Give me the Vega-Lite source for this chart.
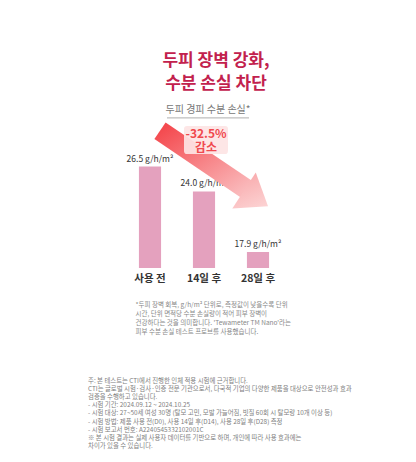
{
  "$schema": "https://vega.github.io/schema/vega-lite/v6.json",
  "background": "#ffffff",
  "padding": {"left": 88, "top": 52, "right": 0, "bottom": 0},
  "config": {"view": {"stroke": null}, "font": "Noto Sans CJK KR"},
  "spacing": 42,
  "vconcat": [
    {
      "width": 162,
      "height": 166,
      "title": {
        "text": ["두피 장벽 강화,", "수분 손실 차단"],
        "color": "#c2214d",
        "fontSize": 17,
        "fontWeight": "bold",
        "lineHeight": 23,
        "anchor": "middle",
        "dx": 12,
        "offset": 9,
        "font": "Noto Sans CJK KR"
      },
      "layer": [
        {
          "data": {"values": [
            {"stage": "사용 전", "tewl": 26.5, "label": "26.5 g/h/m²"},
            {"stage": "14일 후", "tewl": 24.0, "label": "24.0 g/h/m²"},
            {"stage": "28일 후", "tewl": 17.9, "label": "17.9 g/h/m²"}
          ]},
          "mark": {"type": "bar", "color": "#e4a1be"},
          "encoding": {
            "x": {
              "field": "stage", "type": "nominal", "sort": null,
              "scale": {"domain": ["사용 전", "14일 후", "28일 후"], "paddingInner": 0.59, "paddingOuter": 0.295},
              "axis": {
                "title": ["*두피 장벽 회복, g/h/m² 단위로, 측정값이 낮을수록 단위", "시간, 단위 면적당 수분 손실량이 적어 피부 장벽이", "건강하다는 것을 의미합니다. 'Tewameter TM Nano'라는", "피부 수분 손실 테스트 프로브를 사용했습니다."],
                "titleFontSize": 6.5,
                "titleFontWeight": "normal",
                "titleColor": "#888888",
                "titleLineHeight": 9,
                "titleAlign": "left",
                "titleAnchor": "start",
                "titleBaseline": "top",
                "titleX": 12,
                "titleY": 33,
                "labelFontSize": 10.5,
                "labelFontWeight": "bold",
                "labelColor": "#333333",
                "labelPadding": 5,
                "labelAngle": 0,
                "domain": false,
                "ticks": false
              }
            },
            "y": {"field": "tewl", "type": "quantitative", "scale": {"domain": [16.3, 33.0], "zero": false, "nice": false, "clamp": true}, "axis": null}
          }
        },
        {
          "data": {"values": [
            {"stage": "사용 전", "tewl": 26.5, "label": "26.5 g/h/m²"},
            {"stage": "14일 후", "tewl": 24.0, "label": "24.0 g/h/m²"},
            {"stage": "28일 후", "tewl": 17.9, "label": "17.9 g/h/m²"}
          ]},
          "mark": {"type": "text", "baseline": "bottom", "dy": -3, "fontSize": 8.5, "color": "#333333"},
          "encoding": {
            "x": {"field": "stage", "type": "nominal"},
            "y": {"field": "tewl", "type": "quantitative", "axis": null},
            "text": {"field": "label"}
          }
        },
        {
          "data": {"values": [{"stage": "사용 전", "stage_end": "28일 후", "tewl": 30.1, "tewl_end": 24.26}]},
          "mark": {"type": "rule", "strokeWidth": 20, "strokeCap": "butt", "xOffset": 10, "x2Offset": -12,
            "stroke": {"gradient": "linear", "x1": 0, "y1": 0, "x2": 1, "y2": 1, "stops": [{"offset": 0, "color": "#f44a4f"}, {"offset": 1, "color": "#fab9bb"}]}},
          "encoding": {
            "x": {"field": "stage", "type": "nominal"},
            "x2": {"field": "stage_end"},
            "y": {"field": "tewl", "type": "quantitative", "axis": null},
            "y2": {"field": "tewl_end"}
          }
        },
        {
          "data": {"values": [{"stage": "28일 후", "tewl": 23.7}]},
          "mark": {"type": "point", "filled": true, "opacity": 1, "size": 1850, "angle": 33, "xOffset": -8,
            "shape": "M1,0 L-0.33,-1 L-0.33,1 Z",
            "fill": {"gradient": "linear", "x1": 0, "y1": 0, "x2": 1, "y2": 1, "stops": [{"offset": 0, "color": "#f9adaf"}, {"offset": 1, "color": "#fde0e0"}]}},
          "encoding": {
            "x": {"field": "stage", "type": "nominal"},
            "y": {"field": "tewl", "type": "quantitative", "axis": null}
          }
        },
        {
          "data": {"values": [{"stage": "14일 후", "tewl": 29.18}]},
          "mark": {"type": "point", "filled": true, "opacity": 0.92, "size": 1936, "xOffset": 2, "color": "#fde4e4",
            "shape": "M-0.86,-0.64 L0.86,-0.64 Q1,-0.64 1,-0.5 L1,0.5 Q1,0.64 0.86,0.64 L-0.86,0.64 Q-1,0.64 -1,0.5 L-1,-0.5 Q-1,-0.64 -0.86,-0.64 Z"},
          "encoding": {
            "x": {"field": "stage", "type": "nominal"},
            "y": {"field": "tewl", "type": "quantitative", "axis": null}
          }
        },
        {
          "data": {"values": [{"stage": "14일 후", "tewl": 29.78, "note": "-32.5%\n감소"}]},
          "mark": {"type": "text", "lineBreak": "\n", "fontSize": 12, "fontWeight": "bold", "color": "#f0494e", "lineHeight": 13.5, "baseline": "middle", "xOffset": 2},
          "encoding": {
            "x": {"field": "stage", "type": "nominal"},
            "y": {"field": "tewl", "type": "quantitative", "axis": null},
            "text": {"field": "note"}
          }
        },
        {
          "data": {"values": [{"stage": "14일 후", "tewl": 32.2, "note": "두피 경피 수분 손실*"}]},
          "mark": {"type": "text", "fontSize": 10, "color": "#777777", "baseline": "middle", "xOffset": 4},
          "encoding": {
            "x": {"field": "stage", "type": "nominal"},
            "y": {"field": "tewl", "type": "quantitative", "axis": null},
            "text": {"field": "note"}
          }
        },
        {
          "data": {"values": [{"stage": "사용 전", "stage_end": "28일 후", "tewl": 31.4}]},
          "mark": {"type": "rule", "stroke": "#999999", "strokeWidth": 0.8, "xOffset": 17, "x2Offset": -9},
          "encoding": {
            "x": {"field": "stage", "type": "nominal"},
            "x2": {"field": "stage_end"},
            "y": {"field": "tewl", "type": "quantitative", "axis": null}
          }
        }
      ]
    },
    {
      "width": 162,
      "height": 1,
      "title": {
        "text": ["주: 본 테스트는 CTI에서 진행한 인체 적용 시험에 근거합니다.", "CTI는 글로벌 시험·검사·인증 전문 기관으로서, 다국적 기업의 다양한 제품을 대상으로 안전성과 효과", "검증을 수행하고 있습니다.", " - 시험 기간: 2024.09.12 ~ 2024.10.25", " - 시험 대상: 27~50세 여성 30명 (탈모 고민, 모발 가늘어짐, 빗질 60회 시 탈모량 10개 이상 등)", " - 시험 방법: 제품 사용 전(D0), 사용 14일 후(D14), 사용 28일 후(D28) 측정", " - 시험 보고서 번호: A2240545332102001C", "※ 본 시험 결과는 실제 사용자 데이터를 기반으로 하며, 개인에 따라 사용 효과에는", "차이가 있을 수 있습니다."],
        "fontSize": 6.4,
        "fontWeight": "normal",
        "color": "#808080",
        "lineHeight": 8.2,
        "anchor": "start",
        "frame": "group",
        "dx": -35,
        "offset": 0,
        "font": "Noto Sans CJK KR"
      },
      "data": {"values": [{"note": ""}]},
      "mark": {"type": "text"},
      "encoding": {"text": {"field": "note"}}
    }
  ]
}
